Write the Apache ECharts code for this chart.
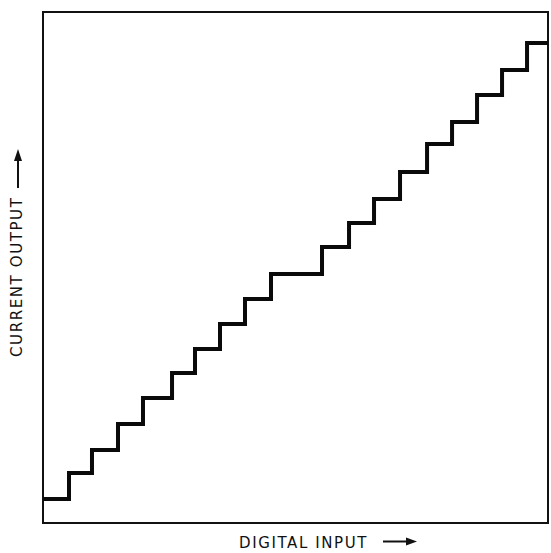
<!DOCTYPE html>
<html>
<head>
<meta charset="utf-8">
<script src="https://cdn.jsdelivr.net/npm/echarts@6/dist/echarts.min.js"></script>
<style>
html,body{margin:0;padding:0;background:#fff;}
#chart{width:551px;height:553px;}
#chart text{letter-spacing:1.6px;}
</style>
</head>
<body>
<div id="chart"></div>
<script>
// Digital input codes where the output steps up (x, in LSB units)
const stepInputs = [0, 1.03, 1.94, 2.97, 3.96, 5.11, 6.02, 7.01, 8.0, 9.03, 11.05, 12.12, 13.11, 14.14, 15.21, 16.2, 17.19, 18.18, 19.17, 20];
// Output current level held from each input onwards
const outputLevels = [0.94, 1.96, 2.86, 3.87, 4.89, 5.87, 6.81, 7.79, 8.77, 9.75, 10.8, 11.74, 12.68, 13.74, 14.83, 15.69, 16.75, 17.73, 18.79, 18.79];
const xLabel = 'DIGITAL INPUT';
const yLabel = 'CURRENT OUTPUT';

const data = stepInputs.map((x, i) => [x, outputLevels[i]]);
const chart = echarts.init(document.getElementById('chart'), null, {renderer: 'svg'});
const font = '"DejaVu Sans", sans-serif';
chart.setOption({
  animation: false,
  backgroundColor: '#fff',
  grid: {left: 43, right: 3, top: 12, bottom: 30, show: true, borderColor: '#111', borderWidth: 2, backgroundColor: 'transparent'},
  xAxis: {type: 'value', min: 0, max: 20, axisLine: {show: false}, axisTick: {show: false}, axisLabel: {show: false}, splitLine: {show: false}},
  yAxis: {type: 'value', min: 0, max: 20, axisLine: {show: false}, axisTick: {show: false}, axisLabel: {show: false}, splitLine: {show: false}},
  series: [{
    type: 'line', step: 'end', data: data, showSymbol: false, symbol: 'none',
    lineStyle: {color: '#0a0a0a', width: 4, join: 'miter', cap: 'butt'}
  }],
  graphic: [
    {type: 'text', x: 239, y: 542.5, style: {text: xLabel, font: '15px ' + font, fill: '#111', align: 'left', verticalAlign: 'middle'}},
    {type: 'line', shape: {x1: 383, y1: 541.5, x2: 409, y2: 541.5}, style: {stroke: '#111', lineWidth: 2}},
    {type: 'polygon', shape: {points: [[406, 537.5], [417, 541.5], [406, 545.5]]}, style: {fill: '#111'}},
    {type: 'text', x: 16.5, y: 357, rotation: Math.PI / 2, style: {text: yLabel, font: '15px ' + font, fill: '#111', align: 'left', verticalAlign: 'middle'}},
    {type: 'line', shape: {x1: 18, y1: 188, x2: 18, y2: 158}, style: {stroke: '#111', lineWidth: 2}},
    {type: 'polygon', shape: {points: [[14, 161], [18, 149], [22, 161]]}, style: {fill: '#111'}}
  ]
});
</script>
</body>
</html>
